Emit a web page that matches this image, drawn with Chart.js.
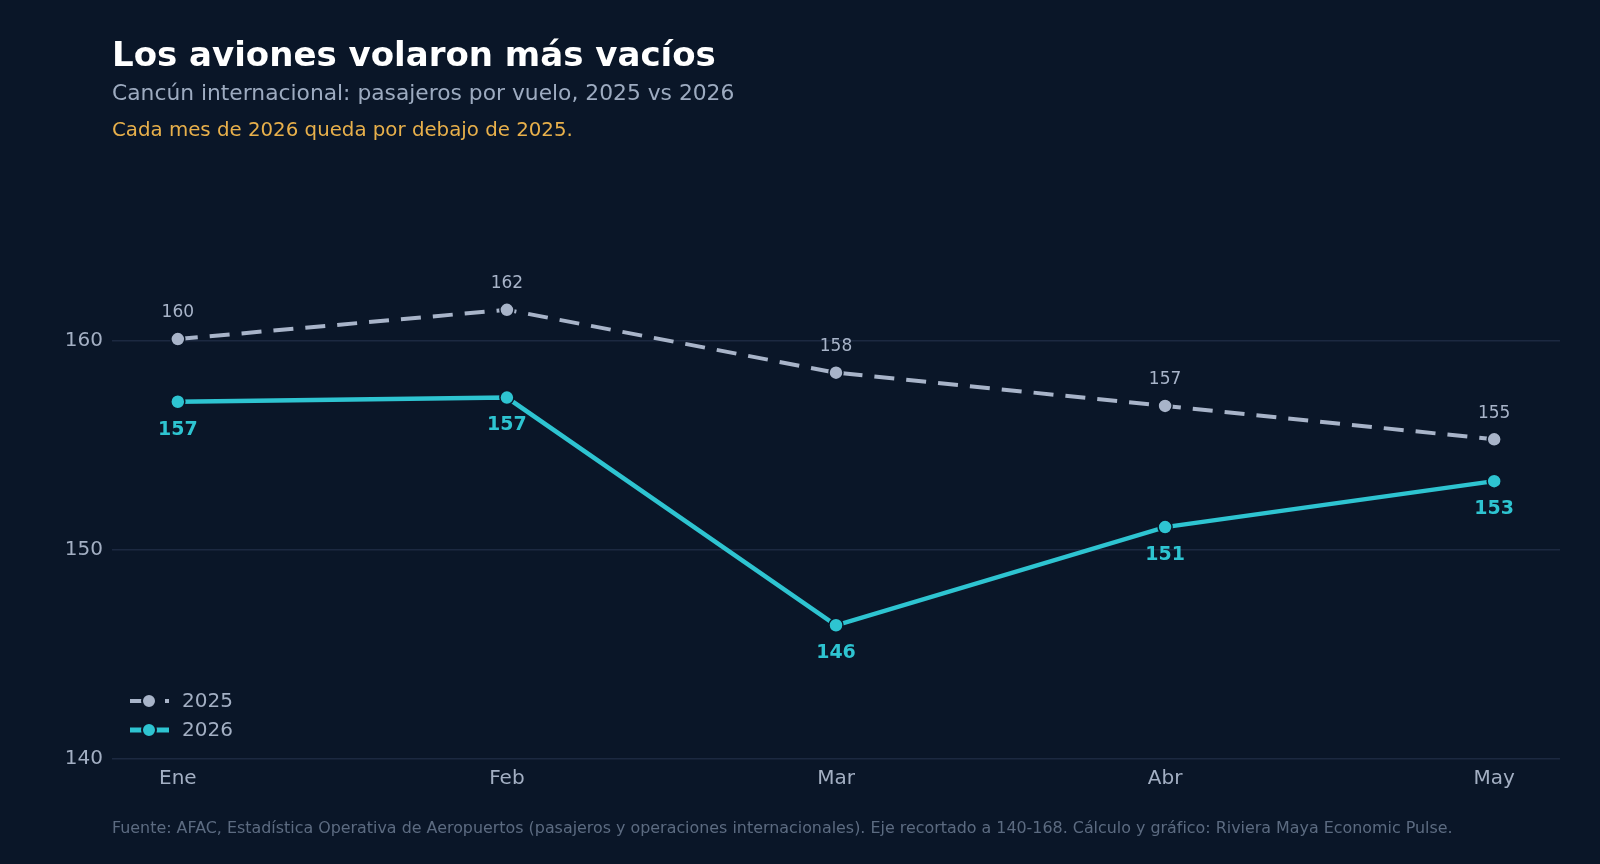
<!DOCTYPE html>
<html lang="es">
<head>
<meta charset="utf-8">
<title>Los aviones volaron más vacíos</title>
<script src="https://cdn.jsdelivr.net/npm/chart.js@4.4.1/dist/chart.umd.min.js"></script>
<style>
    html, body {
        margin: 0;
        padding: 0;
        background: #0a1628;
        width: 1600px;
        height: 864px;
        overflow: hidden;
        font-family: "DejaVu Sans", sans-serif;
    }
    #chart-wrap {
        position: absolute;
        left: 0;
        top: 0;
        width: 1600px;
        height: 864px;
    }
    .txt {
        position: absolute;
        left: 112px;
        line-height: 1;
        white-space: nowrap;
    }
    #title { top: 37px; font-size: 34px; font-weight: bold; color: #ffffff; }
    #subtitle { top: 82px; font-size: 21.8px; color: #9dabc0; }
    #note { top: 120px; font-size: 19.8px; color: #e8b04b; }
    #source { top: 820px; font-size: 15.9px; color: #5c6b81; }
</style>
</head>
<body>
<div id="chart-wrap"><canvas id="chart"></canvas></div>
<div class="txt" id="title">Los aviones volaron más vacíos</div>
<div class="txt" id="subtitle">Cancún internacional: pasajeros por vuelo, 2025 vs 2026</div>
<div class="txt" id="note">Cada mes de 2026 queda por debajo de 2025.</div>
<div class="txt" id="source">Fuente: AFAC, Estadística Operativa de Aeropuertos (pasajeros y operaciones internacionales). Eje recortado a 140-168. Cálculo y gráfico: Riviera Maya Economic Pulse.</div>

<script>
// datos
const months = ['Ene', 'Feb', 'Mar', 'Abr', 'May'];
const pax2025 = [160.1, 161.5, 158.49, 156.9, 155.3];
const pax2026 = [157.1, 157.3, 146.4, 151.1, 153.3];
const seriesNames = ['2025', '2026'];
const yTicks = [140, 150, 160];

const BG = '#0a1628';
const GREY = '#a8b4c9';
const CYAN = '#2ec4d1';
const TICK = '#a3afc3';

const toPoints = arr => arr.map((v, i) => ({ x: i, y: v }));

// etiquetas de valor encima / debajo de cada punto
const valueLabels = {
    id: 'valueLabels',
    afterDatasetsDraw(chart) {
        const ctx = chart.ctx;
        ctx.save();
        ctx.textAlign = 'center';
        ctx.textBaseline = 'middle';
        chart.data.datasets.forEach((ds, di) => {
            const meta = chart.getDatasetMeta(di);
            meta.data.forEach((pt, i) => {
                const v = Math.round(ds.data[i].y);
                if (di === 0) {
                    ctx.font = '17px "DejaVu Sans"';
                    ctx.fillStyle = GREY;
                    ctx.fillText(v, pt.x, pt.y - 26);
                } else {
                    ctx.font = 'bold 19px "DejaVu Sans"';
                    ctx.fillStyle = CYAN;
                    ctx.fillText(v, pt.x, pt.y + 28);
                }
            });
        });
        ctx.restore();
    }
};

// leyenda abajo a la izquierda, dentro del área del gráfico
const legendBox = {
    id: 'legendBox',
    afterDraw(chart) {
        const ctx = chart.ctx;
        const a = chart.chartArea;
        const x0 = a.left + 18;
        const rows = [a.bottom - 58, a.bottom - 29];
        ctx.save();
        chart.data.datasets.forEach((ds, di) => {
            const y = rows[di];
            ctx.strokeStyle = ds.borderColor;
            ctx.lineWidth = di === 0 ? 4 : 5;
            ctx.setLineDash(ds.borderDash ? [21, 14] : []);
            ctx.beginPath();
            ctx.moveTo(x0, y);
            ctx.lineTo(x0 + 39, y);
            ctx.stroke();
            ctx.setLineDash([]);
            ctx.beginPath();
            ctx.arc(x0 + 19, y, 7, 0, Math.PI * 2);
            ctx.fillStyle = ds.pointBackgroundColor;
            ctx.fill();
            ctx.lineWidth = 2;
            ctx.strokeStyle = BG;
            ctx.stroke();
            ctx.font = '20px "DejaVu Sans"';
            ctx.fillStyle = TICK;
            ctx.textAlign = 'left';
            ctx.textBaseline = 'middle';
            ctx.fillText(seriesNames[di], x0 + 52, y + 1);
        });
        ctx.restore();
    }
};

const ctx = document.getElementById('chart').getContext('2d');
const chart = new Chart(ctx, {
    type: 'line',
    data: {
        datasets: [
            {
                label: seriesNames[0],
                data: toPoints(pax2025),
                borderColor: GREY,
                borderWidth: 4,
                borderDash: [20, 12],
                pointRadius: 7,
                pointBackgroundColor: GREY,
                pointBorderColor: BG,
                pointBorderWidth: 1.5
            },
            {
                label: seriesNames[1],
                data: toPoints(pax2026),
                borderColor: CYAN,
                borderWidth: 4.5,
                pointRadius: 7,
                pointBackgroundColor: CYAN,
                pointBorderColor: BG,
                pointBorderWidth: 1.5
            }
        ]
    },
    options: {
        responsive: true,
        maintainAspectRatio: false,
        animation: false,
        layout: {
            padding: { top: 174, right: 40, bottom: 0, left: 0 }
        },
        plugins: {
            legend: { display: false },
            tooltip: { enabled: false }
        },
        scales: {
            x: {
                type: 'linear',
                min: -0.2,
                max: 4.2,
                afterBuildTicks: scale => {
                    scale.ticks = months.map((m, i) => ({ value: i }));
                },
                afterFit: scale => { scale.height = 105; },
                grid: { display: false },
                border: { display: false },
                ticks: {
                    color: TICK,
                    font: { family: 'DejaVu Sans', size: 20 },
                    padding: 0,
                    callback: v => months[v]
                }
            },
            y: {
                min: 140,
                max: 168,
                afterBuildTicks: scale => {
                    scale.ticks = yTicks.map(v => ({ value: v }));
                },
                afterFit: scale => { scale.width = 112; },
                grid: { color: '#1c2941', lineWidth: 1.5, drawTicks: false },
                border: { display: false },
                ticks: {
                    color: TICK,
                    font: { family: 'DejaVu Sans', size: 20 },
                    padding: 9
                }
            }
        }
    },
    plugins: [valueLabels, legendBox]
});
</script>
</body>
</html>
